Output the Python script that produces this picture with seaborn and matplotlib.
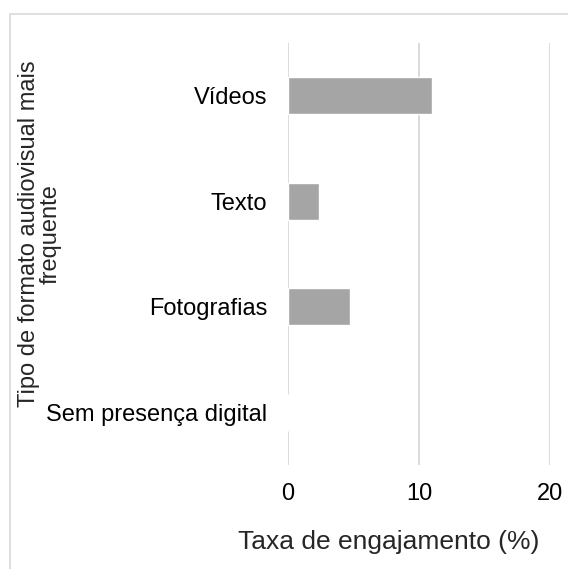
import matplotlib
matplotlib.use("Agg")
import matplotlib.pyplot as plt
import matplotlib.patches as mpatches
import seaborn as sns
import pandas as pd

# Engagement rate by most frequent audiovisual format
categories = ["Vídeos", "Texto", "Fotografias", "Sem presença digital"]
engagement = [11.0, 2.4, 4.7, 0.0]
x_ticks = [0, 10, 20]

df = pd.DataFrame({"formato": categories, "taxa": engagement})

sns.set_style("white")
plt.rcParams["font.family"] = ["Liberation Sans", "DejaVu Sans"]

fig = plt.figure(figsize=(5.68, 5.69), dpi=100)
ax = fig.add_axes([288 / 568, 1 - 465 / 569, 262 / 568, 422 / 569])

sns.barplot(data=df, x="taxa", y="formato", orient="h", color="#a5a5a5",
            saturation=1, width=0.35, ax=ax, order=categories)

ax.set_xlim(0, 20)
ax.set_ylim(3.5, -0.5)
ax.set_xticks(x_ticks)
ax.set_xticklabels([str(t) for t in x_ticks])
ax.grid(axis="x", color="#d9d9d9", linewidth=1.3)
ax.grid(axis="y", visible=False)
ax.set_axisbelow(True)
for s in ax.spines.values():
    s.set_visible(False)
ax.tick_params(axis="both", length=0, labelsize=17, colors="black")
ax.tick_params(axis="y", pad=15)
ax.tick_params(axis="x", pad=13)

ax.set_xlabel("Taxa de engajamento (%)", fontsize=19, labelpad=18)
ax.xaxis.label.set_x((389 - 288) / 262)
ax.set_ylabel("Tipo de formato audiovisual mais\nfrequente", fontsize=17,
              multialignment="center", linespacing=0.95)
ax.yaxis.set_label_coords((40 - 288) / 262, (465 - 234) / 422)
ax.yaxis.label.set_va("center")

# light chart-area frame
frame = mpatches.Rectangle((9.5 / 568, -0.1), 1.2, (569 - 14) / 569 + 0.1,
                           transform=fig.transFigure, fill=False,
                           edgecolor="#d9d9d9", linewidth=1.2)
fig.patches.append(frame)

fig.savefig("out.png", dpi=100, facecolor="white")
